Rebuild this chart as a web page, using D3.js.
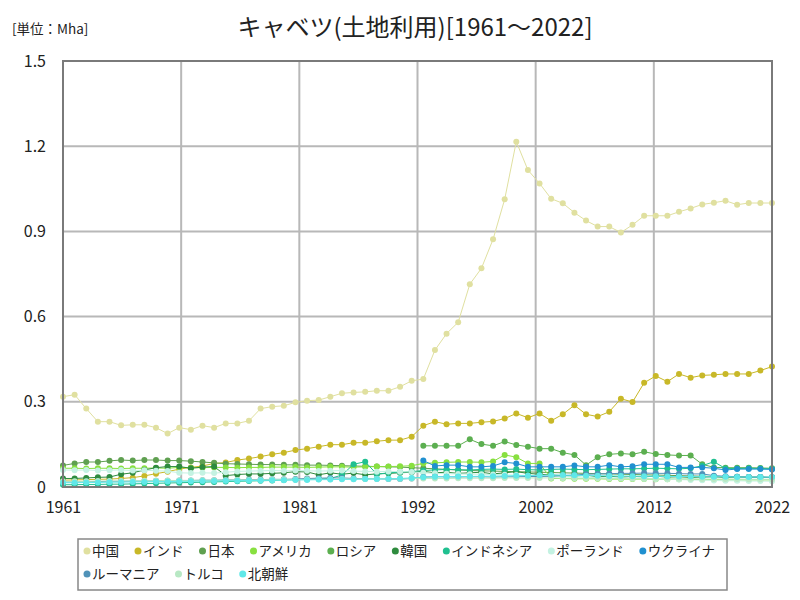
<!DOCTYPE html>
<html><head><meta charset="utf-8">
<script src="https://cdn.jsdelivr.net/npm/d3@7"></script>
<style>
body{margin:0;background:#fff;}
text{font-family:"Noto Sans CJK JP","Noto Sans",sans-serif;}
</style></head>
<body><svg id="c" width="800" height="600"></svg>
<script>
const years = d3.range(1961, 2023);
const seriesNames = ["中国","インド","日本","アメリカ","ロシア","韓国","インドネシア","ポーランド","ウクライナ","ルーマニア","トルコ","北朝鮮"];
const seriesColors = ["#e0e0a0","#c8b828","#5fa050","#88e040","#5caf50","#2e8b3e","#20c090","#c4f2e2","#2090d0","#5092b8","#b8e8c4","#60e8e8"];
const N = null;
const china = [0.318,0.325,0.276,0.230,0.230,0.217,0.219,0.219,0.209,0.188,
0.209,0.202,0.216,0.209,0.224,0.224,0.233,0.276,0.283,0.286,
0.298,0.304,0.306,0.318,0.330,0.333,0.335,0.339,0.339,0.353,
0.374,0.380,0.482,0.540,0.580,0.714,0.770,0.872,1.013,1.216,
1.116,1.069,1.015,0.999,0.966,0.938,0.917,0.917,0.896,0.923,
0.955,0.955,0.955,0.969,0.981,0.995,1.001,1.008,0.994,1.000,
1.000,1.000];
const india = [0.024,0.025,0.026,0.027,0.028,0.030,0.033,0.039,0.047,0.054,
0.063,0.069,0.074,0.083,0.086,0.095,0.100,0.107,0.115,0.121,
0.130,0.135,0.142,0.149,0.149,0.156,0.156,0.161,0.165,0.165,
0.177,0.216,0.230,0.221,0.224,0.224,0.228,0.231,0.241,0.259,
0.244,0.259,0.233,0.256,0.288,0.256,0.248,0.265,0.311,0.299,
0.367,0.391,0.371,0.398,0.385,0.393,0.395,0.398,0.398,0.398,
0.410,0.424];
const japan = [0.076,0.083,0.088,0.088,0.092,0.095,0.093,0.095,0.095,0.093,
0.093,0.091,0.088,0.085,0.082,0.081,0.080,0.079,0.079,0.078,
0.078,0.077,0.077,0.076,0.075,0.074,0.073,0.072,0.071,0.070,
0.068,0.066,0.064,0.062,0.060,0.058,0.057,0.056,0.055,0.054,
0.053,0.052,0.051,0.050,0.049,0.048,0.047,0.046,0.045,0.044,
0.043,0.042,0.041,0.040,0.039,0.038,0.037,0.036,0.036,0.035,
0.035,0.034];
const usa = [0.066,0.066,0.065,0.066,0.066,0.065,0.066,0.066,0.067,0.066,
0.069,0.068,0.068,0.069,0.069,0.068,0.069,0.069,0.070,0.070,
0.070,0.069,0.070,0.071,0.071,0.070,0.071,0.072,0.072,0.073,
0.075,0.083,0.085,0.087,0.088,0.088,0.087,0.090,0.113,0.105,
0.083,0.083,0.030,0.030,0.029,0.029,0.029,0.028,0.028,0.028,
0.028,0.027,0.027,0.027,0.027,0.026,0.026,0.025,0.025,0.025,
0.025,0.025];
const russia = [N,N,N,N,N,N,N,N,N,N,
N,N,N,N,N,N,N,N,N,N,
N,N,N,N,N,N,N,N,N,N,
N,0.145,0.145,0.145,0.145,0.168,0.151,0.145,0.160,0.148,
0.142,0.135,0.135,0.121,0.113,0.077,0.105,0.115,0.118,0.115,
0.124,0.116,0.113,0.111,0.111,0.080,0.069,0.068,0.068,0.068,
0.067,0.066];
const korea = [0.030,0.030,0.032,0.034,0.035,0.045,0.050,0.060,0.068,0.072,
0.072,0.066,0.070,0.072,0.040,0.044,0.046,0.046,0.048,0.050,
0.054,0.053,0.043,0.050,0.045,0.049,0.043,0.046,0.048,0.050,
0.052,0.055,0.050,0.052,0.048,0.050,0.052,0.046,0.050,0.054,
0.048,0.045,0.042,0.040,0.038,0.042,0.036,0.038,0.035,0.037,
0.036,0.038,0.035,0.036,0.034,0.035,0.036,0.034,0.035,0.034,
0.034,0.033];
const indonesia = [0.008,0.008,0.009,0.009,0.010,0.010,0.011,0.012,0.013,0.014,
0.015,0.016,0.017,0.018,0.019,0.020,0.021,0.022,0.023,0.025,
0.026,0.027,0.028,0.030,0.042,0.080,0.089,0.045,0.050,0.052,
0.054,0.058,0.060,0.062,0.061,0.060,0.062,0.063,0.062,0.063,
0.061,0.060,0.062,0.063,0.062,0.061,0.062,0.063,0.064,0.064,
0.065,0.066,0.065,0.064,0.066,0.075,0.089,0.065,0.065,0.066,
0.065,0.064];
const poland = [0.060,0.059,0.060,0.058,0.059,0.060,0.058,0.059,0.057,0.056,
0.050,0.049,0.050,0.049,0.052,0.055,0.056,0.057,0.058,0.057,
0.058,0.057,0.056,0.057,0.058,0.056,0.055,0.054,0.055,0.054,
0.053,0.050,0.048,0.047,0.046,0.045,0.045,0.044,0.043,0.042,
0.040,0.039,0.038,0.037,0.036,0.035,0.033,0.032,0.031,0.030,
0.029,0.028,0.027,0.026,0.025,0.024,0.023,0.022,0.022,0.021,
0.021,0.020];
const ukraine = [N,N,N,N,N,N,N,N,N,N,
N,N,N,N,N,N,N,N,N,N,
N,N,N,N,N,N,N,N,N,N,
N,0.093,0.074,0.077,0.077,0.071,0.071,0.074,0.087,0.083,
0.071,0.071,0.071,0.071,0.076,0.071,0.071,0.077,0.071,0.073,
0.080,0.080,0.080,0.069,0.069,0.069,0.066,0.060,0.063,0.063,
0.063,0.062];
const romania = [0.018,0.018,0.019,0.019,0.020,0.020,0.021,0.021,0.022,0.022,
0.023,0.023,0.024,0.024,0.025,0.025,0.026,0.026,0.027,0.027,
0.028,0.030,0.031,0.032,0.032,0.030,0.029,0.029,0.028,0.028,
0.030,0.035,0.036,0.036,0.035,0.036,0.036,0.035,0.036,0.036,
0.037,0.037,0.038,0.040,0.042,0.045,0.046,0.047,0.048,0.048,
0.049,0.048,0.048,0.047,0.046,0.046,0.040,0.038,0.036,0.035,
0.035,0.034];
const turkey = [0.020,0.020,0.020,0.021,0.021,0.021,0.022,0.022,0.022,0.023,
0.023,0.023,0.024,0.024,0.024,0.025,0.025,0.025,0.026,0.026,
0.026,0.027,0.027,0.027,0.028,0.028,0.028,0.029,0.029,0.029,
0.030,0.030,0.030,0.030,0.031,0.031,0.031,0.031,0.032,0.032,
0.032,0.032,0.032,0.031,0.031,0.031,0.031,0.030,0.030,0.030,
0.030,0.029,0.029,0.029,0.029,0.028,0.028,0.028,0.028,0.027,
0.027,0.027];
const nkorea = [0.015,0.015,0.016,0.016,0.017,0.017,0.018,0.018,0.019,0.019,
0.020,0.020,0.021,0.021,0.022,0.022,0.023,0.023,0.024,0.024,
0.025,0.025,0.026,0.026,0.027,0.027,0.028,0.028,0.029,0.030,
0.032,0.034,0.036,0.036,0.037,0.037,0.038,0.038,0.039,0.040,
0.040,0.041,0.042,0.042,0.041,0.040,0.040,0.039,0.039,0.038,
0.038,0.038,0.037,0.037,0.037,0.036,0.036,0.036,0.035,0.035,
0.035,0.035];
const seriesValues = [china,india,japan,usa,russia,korea,indonesia,poland,ukraine,romania,turkey,nkorea];
const yTicks = [0,0.3,0.6,0.9,1.2,1.5];
const xTickCount = 6;

const svg = d3.select("#c");
const X0=63, X1=772, Y0=61, Y1=487;
const x = d3.scaleLinear().domain([1961,2022]).range([X0,X1]);
const y = d3.scaleLinear().domain([0,1.5]).range([Y1,Y0]);
const xTicks = d3.range(xTickCount+1).map(i=>1961 + i*(2022-1961)/xTickCount);

// title + unit
svg.append("text").attr("x",12).attr("y",34).attr("font-size",13.5).attr("fill","#222").text("[単位：Mha]");
svg.append("text").attr("x",415).attr("y",36).attr("text-anchor","middle").attr("font-size",24).attr("fill","#222").text("キャベツ(土地利用)[1961～2022]");

// grid
const g = svg.append("g");
g.selectAll(".gy").data(yTicks).join("line").attr("x1",X0).attr("x2",X1)
 .attr("y1",d=>y(d)).attr("y2",d=>y(d)).attr("stroke","#b8b8b8").attr("stroke-width",2);
g.selectAll(".gx").data(xTicks).join("line").attr("y1",Y0).attr("y2",Y1)
 .attr("x1",d=>x(d)).attr("x2",d=>x(d)).attr("stroke","#b8b8b8").attr("stroke-width",2);

// axes labels via d3 axes
const ax = svg.append("g").attr("transform",`translate(0,${Y1})`)
 .call(d3.axisBottom(x).tickValues(xTicks).tickFormat(d=>Math.round(d)).tickSize(0).tickPadding(12));
const ay = svg.append("g").attr("transform",`translate(${X0},0)`)
 .call(d3.axisLeft(y).tickValues(yTicks).tickFormat(d=>d===0?"0":d.toFixed(1)).tickSize(0).tickPadding(17));
[ax,ay].forEach(a=>{a.select(".domain").remove(); a.selectAll("text").attr("font-size",16).attr("fill","#222").attr("font-family",'"Noto Sans CJK JP",sans-serif');});
ax.selectAll("text").attr("dy","0.9em");

// series
const line = d3.line().defined(d=>d.v!==null).x(d=>x(d.yr)).y(d=>y(d.v));
seriesValues.forEach((vals,i)=>{
  const pts = years.map((yr,j)=>({yr, v: vals[j]}));
  const sg = svg.append("g");
  sg.append("path").datum(pts).attr("d",line).attr("fill","none").attr("stroke",seriesColors[i]).attr("stroke-width",1);
  sg.selectAll("circle").data(pts.filter(p=>p.v!==null)).join("circle")
    .attr("cx",p=>x(p.yr)).attr("cy",p=>y(p.v)).attr("r",3).attr("fill",seriesColors[i]);
});

// frame
svg.append("rect").attr("x",X0).attr("y",Y0).attr("width",X1-X0).attr("height",Y1-Y0)
 .attr("fill","none").attr("stroke","#7a7a7a").attr("stroke-width",2);

// legend
const lg = svg.append("g");
lg.append("rect").attr("x",78).attr("y",539).attr("width",649).attr("height",51).attr("fill","#fff").attr("stroke","#888").attr("stroke-width",1.5);
let lx = 87, ly = 551;
const rowBreak = 9;
seriesNames.forEach((nm,i)=>{
  if(i===rowBreak){lx=87; ly=574;}
  lg.append("circle").attr("cx",lx).attr("cy",ly).attr("r",3.5).attr("fill",seriesColors[i]);
  const t = lg.append("text").attr("x",lx+5).attr("y",ly).attr("dy","0.35em").attr("font-size",13.5).attr("fill","#222").text(nm);
  lx += 5 + t.node().getComputedTextLength() + 19;
});
</script></body></html>
